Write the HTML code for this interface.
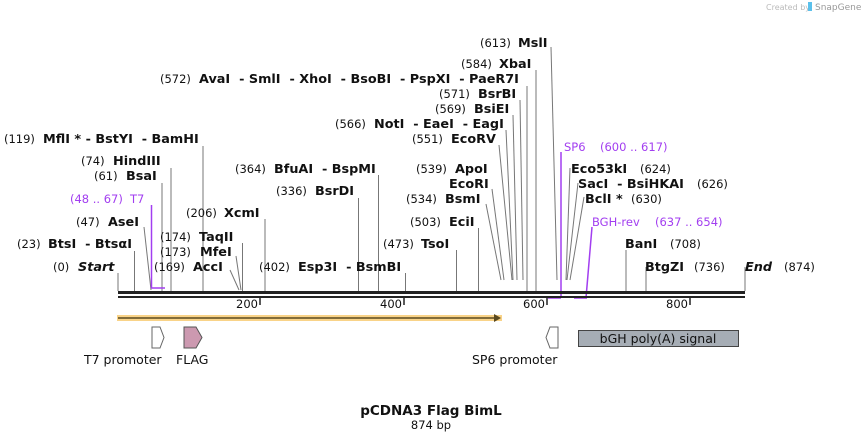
<!DOCTYPE html>
<html><head><meta charset="utf-8"><style>
body{margin:0;background:#fff;}
svg{display:block;font-family:"DejaVu Sans","Liberation Sans",sans-serif;}
.n{font-size:11.5px;fill:#111;}
.b{font-size:12.8px;font-weight:bold;fill:#111;}
.p{font-size:11.5px;fill:#a23ef0;}
.l{stroke:#777;stroke-width:1;fill:none;}
.pl{stroke:#a23ef0;stroke-width:1.5;fill:none;}
</style></head><body>
<svg width="863" height="441" viewBox="0 0 863 441">
<text x="766" y="10" font-size="8" fill="#bbb">Created by</text>
<rect x="808" y="2" width="4" height="9" fill="#5bc0eb"/>
<text x="815" y="10" font-size="9" fill="#999">SnapGene</text>

<g class="l">
<line x1="118" y1="273" x2="118" y2="291"/>
<line x1="134.5" y1="251" x2="134.5" y2="291"/>
<line x1="144" y1="227" x2="151" y2="290"/>
<line x1="162" y1="183" x2="162" y2="291"/>
<line x1="171" y1="168" x2="171" y2="291"/>
<line x1="203" y1="146" x2="203" y2="291"/>
<line x1="230" y1="270" x2="239" y2="290"/>
<line x1="236" y1="256" x2="241" y2="290"/>
<line x1="242.5" y1="243" x2="242.5" y2="291"/>
<line x1="265" y1="219" x2="265" y2="291"/>
<line x1="358.5" y1="198" x2="358.5" y2="291"/>
<line x1="378.5" y1="175" x2="378.5" y2="291"/>
<line x1="405.5" y1="273" x2="405.5" y2="291"/>
<line x1="456.5" y1="250" x2="456.5" y2="291"/>
<line x1="478.5" y1="228" x2="478.5" y2="291"/>
<line x1="486" y1="204" x2="501" y2="280"/>
<line x1="492" y1="189" x2="504" y2="280"/>
<line x1="499" y1="145" x2="512" y2="280"/>
<line x1="506" y1="130" x2="513" y2="280"/>
<line x1="513" y1="115" x2="517" y2="280"/>
<line x1="520" y1="100" x2="523" y2="280"/>
<line x1="527" y1="86" x2="527" y2="291"/>
<line x1="536" y1="70" x2="536" y2="291"/>
<line x1="551" y1="47" x2="557" y2="280"/>
<line x1="570" y1="168" x2="566" y2="280"/>
<line x1="578" y1="183" x2="567" y2="280"/>
<line x1="584" y1="197" x2="570" y2="280"/>
<line x1="626" y1="250" x2="626" y2="291"/>
<line x1="646" y1="267" x2="646" y2="291"/>
<line x1="745" y1="267" x2="745" y2="291"/>
</g>
<g class="pl">
<line x1="151.5" y1="205" x2="151.5" y2="288"/>
<line x1="151" y1="288" x2="165" y2="288"/>
<line x1="561" y1="152" x2="561" y2="298"/>
<line x1="548" y1="298" x2="561" y2="298"/>
<line x1="592" y1="227" x2="586" y2="298"/>
<line x1="574" y1="298" x2="587" y2="298"/>
</g>

<rect x="118" y="291" width="627" height="3" fill="#222"/>
<rect x="118" y="296" width="627" height="2" fill="#222"/>
<g stroke="#222" stroke-width="1.5">
<line x1="260" y1="298" x2="260" y2="305"/>
<line x1="404" y1="298" x2="404" y2="305"/>
<line x1="547" y1="298" x2="547" y2="305"/>
<line x1="690" y1="298" x2="690" y2="305"/>
</g>
<g class="n" text-anchor="end">
<text x="258" y="308">200</text><text x="402" y="308">400</text><text x="545" y="308">600</text><text x="688" y="308">800</text>
</g>

<text class="n" x="480" y="47">(613)</text><text class="b" x="518" y="47">MslI</text>
<text class="n" x="461" y="68">(584)</text><text class="b" x="499" y="68">XbaI</text>
<text class="n" x="160" y="83">(572)</text><text class="b" x="199" y="83">AvaI &#160;- SmlI &#160;- XhoI &#160;- BsoBI &#160;- PspXI &#160;- PaeR7I</text>
<text class="n" x="439" y="98">(571)</text><text class="b" x="478" y="98">BsrBI</text>
<text class="n" x="435" y="113">(569)</text><text class="b" x="474" y="113">BsiEI</text>
<text class="n" x="335" y="128">(566)</text><text class="b" x="374" y="128">NotI &#160;- EaeI &#160;- EagI</text>
<text class="n" x="412" y="143">(551)</text><text class="b" x="451" y="143">EcoRV</text>
<text class="n" x="4" y="143">(119)</text><text class="b" x="43" y="143">MflI * - BstYI &#160;- BamHI</text>
<text class="n" x="81" y="165">(74)</text><text class="b" x="113" y="165">HindIII</text>
<text class="n" x="94" y="180">(61)</text><text class="b" x="126" y="180">BsaI</text>
<text class="p" x="70" y="203">(48 .. 67)</text><text class="p" x="130" y="203" font-size="12.5">T7</text>
<text class="n" x="76" y="226">(47)</text><text class="b" x="108" y="226">AseI</text>
<text class="n" x="17" y="248">(23)</text><text class="b" x="48" y="248">BtsI &#160;- BtsαI</text>
<text class="n" x="53" y="271">(0)</text><text class="b" x="78" y="271" font-style="italic">Start</text>
<text class="n" x="160" y="241">(174)</text><text class="b" x="199" y="241">TaqII</text>
<text class="n" x="160" y="256">(173)</text><text class="b" x="200" y="256">MfeI</text>
<text class="n" x="154" y="271">(169)</text><text class="b" x="193" y="271">AccI</text>
<text class="n" x="186" y="217">(206)</text><text class="b" x="224" y="217">XcmI</text>
<text class="n" x="235" y="173">(364)</text><text class="b" x="274" y="173">BfuAI &#160;- BspMI</text>
<text class="n" x="276" y="195">(336)</text><text class="b" x="315" y="195">BsrDI</text>
<text class="n" x="259" y="271">(402)</text><text class="b" x="298" y="271">Esp3I &#160;- BsmBI</text>
<text class="n" x="383" y="248">(473)</text><text class="b" x="421" y="248">TsoI</text>
<text class="n" x="410" y="226">(503)</text><text class="b" x="449" y="226">EciI</text>
<text class="n" x="406" y="203">(534)</text><text class="b" x="445" y="203">BsmI</text>
<text class="b" x="449" y="188">EcoRI</text>
<text class="n" x="416" y="173">(539)</text><text class="b" x="455" y="173">ApoI</text>
<text class="p" x="564" y="151" font-size="12.5">SP6</text><text class="p" x="600" y="151">(600 .. 617)</text>
<text class="b" x="571" y="173">Eco53kI</text><text class="n" x="640" y="173">(624)</text>
<text class="b" x="578" y="188">SacI &#160;- BsiHKAI</text><text class="n" x="697" y="188">(626)</text>
<text class="b" x="585" y="203">BclI *</text><text class="n" x="631" y="203">(630)</text>
<text class="p" x="592" y="226" font-size="12.5">BGH-rev</text><text class="p" x="655" y="226">(637 .. 654)</text>
<text class="b" x="625" y="248">BanI</text><text class="n" x="670" y="248">(708)</text>
<text class="b" x="645" y="271">BtgZI</text><text class="n" x="694" y="271">(736)</text>
<text class="b" x="745" y="271" font-style="italic">End</text><text class="n" x="784" y="271">(874)</text>

<rect x="117" y="315" width="385" height="6" fill="#f8c86a" opacity="0.8"/>
<line x1="118" y1="318" x2="497" y2="318" stroke="#5a4a20" stroke-width="1.5"/>
<polygon points="494,314 501,318 494,322" fill="#5a4a20"/>
<polygon points="152,327 160,327 164,337.5 160,348 152,348" fill="#fff" stroke="#666"/>
<polygon points="184,327 196,327 202,337.5 196,348 184,348" fill="#cc99b0" stroke="#555"/>
<polygon points="558,327 550,327 546,337.5 550,348 558,348" fill="#fff" stroke="#666"/>
<rect x="578.5" y="330.5" width="160" height="16" fill="#a6adb5" stroke="#444"/>
<text x="658" y="343" text-anchor="middle" font-size="12.5" fill="#111">bGH poly(A) signal</text>
<text x="84" y="364" font-size="12.5" fill="#111">T7 promoter</text>
<text x="176" y="364" font-size="12.5" fill="#111">FLAG</text>
<text x="472" y="364" font-size="12.5" fill="#111">SP6 promoter</text>

<text x="431" y="415" text-anchor="middle" font-size="13.5" font-weight="bold" fill="#111">pCDNA3 Flag BimL</text>
<text x="431" y="429" text-anchor="middle" font-size="11.5" fill="#111">874 bp</text>
</svg>
</body></html>
